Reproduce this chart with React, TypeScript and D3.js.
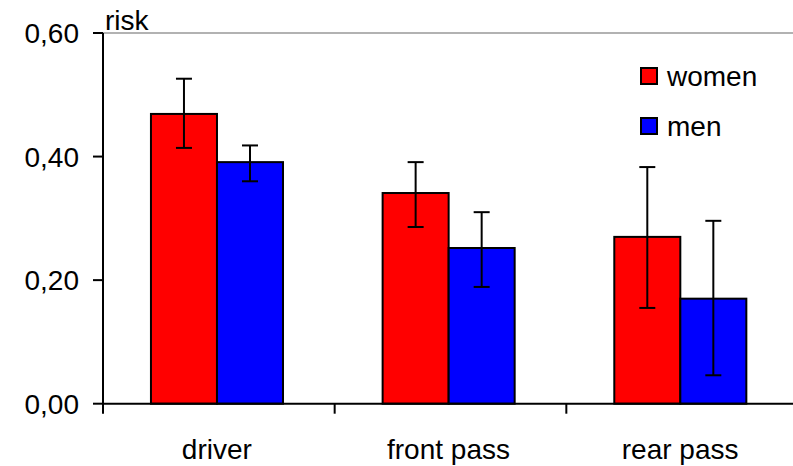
import React from 'react';
import * as d3 from 'd3';

const categories = ['driver', 'front pass', 'rear pass'];
const series = ['women', 'men'];
const colors = ['#FF0000', '#0000FF'];

const womenRisk = [0.469, 0.341, 0.270];
const womenHigh = [0.526, 0.391, 0.383];
const womenLow = [0.414, 0.286, 0.155];

const menRisk = [0.391, 0.252, 0.170];
const menHigh = [0.418, 0.310, 0.296];
const menLow = [0.360, 0.189, 0.046];

const yTicks = [0, 0.2, 0.4, 0.6];
const yTickLabels = ['0,00', '0,20', '0,40', '0,60'];

const values = [womenRisk, menRisk];
const highs = [womenHigh, menHigh];
const lows = [womenLow, menLow];

const W = 793;
const H = 466;
const margin = { top: 33, right: -5, bottom: 62, left: 103 };
const font = 'Liberation Sans, Arial, sans-serif';
const fs = 28;

export default function App() {
  const x0 = d3.scaleBand<string>()
    .domain(categories)
    .range([margin.left, W - margin.right])
    .padding(0);

  const bw = x0.bandwidth();
  const x1 = d3.scaleBand<string>()
    .domain(series)
    .range([bw * 0.207, bw * 0.777]);

  const y = d3.scaleLinear()
    .domain([0, 0.6])
    .range([H - margin.bottom - 0.3, margin.top]);

  const y0 = y(0);

  return (
    <svg width={W} height={H} style={{ position: 'absolute', left: 0, top: 0, background: '#fff' }}
      fontFamily={font}>
      {/* plot top border */}
      <line x1={margin.left} x2={W} y1={y(0.6)} y2={y(0.6)} stroke="#999" strokeWidth={1.5} />

      {categories.map((c, ci) => series.map((s, si) => {
        const bx = (x0(c) || 0) + (x1(s) || 0);
        const cx = bx + x1.bandwidth() / 2;
        return (
          <g key={c + s}>
            <rect x={bx} y={y(values[si][ci])} width={x1.bandwidth()} height={y0 - y(values[si][ci])}
              fill={colors[si]} stroke="#000" strokeWidth={2} />
            <line x1={cx} x2={cx} y1={y(highs[si][ci])} y2={y(lows[si][ci])} stroke="#000" strokeWidth={2} />
            <line x1={cx - 8} x2={cx + 8} y1={y(highs[si][ci])} y2={y(highs[si][ci])} stroke="#000" strokeWidth={2} />
            <line x1={cx - 8} x2={cx + 8} y1={y(lows[si][ci])} y2={y(lows[si][ci])} stroke="#000" strokeWidth={2} />
          </g>
        );
      }))}

      {/* y axis */}
      <line x1={margin.left} x2={margin.left} y1={y(0.6)} y2={y0 + 10} stroke="#000" strokeWidth={2} />
      {yTicks.map((t, i) => (
        <g key={t}>
          <line x1={margin.left - 10} x2={margin.left} y1={y(t)} y2={y(t)} stroke="#000" strokeWidth={2} />
          <text x={margin.left - 24} y={y(t)} dy="0.36em" textAnchor="end" fontSize={fs} fill="#000">
            {yTickLabels[i]}
          </text>
        </g>
      ))}
      <text x={margin.left + 2} y={y(0.6) - 3} fontSize={fs} fill="#000">risk</text>

      {/* x axis */}
      <line x1={margin.left} x2={W} y1={y0} y2={y0} stroke="#000" strokeWidth={2} />
      {categories.map((c, i) => (
        <g key={c}>
          {i > 0 && (
            <line x1={x0(c)} x2={x0(c)} y1={y0} y2={y0 + 10} stroke="#000" strokeWidth={2} />
          )}
          <text x={(x0(c) || 0) + bw / 2 - 2} y={y0 + 55} textAnchor="middle" fontSize={fs} fill="#000">
            {c}
          </text>
        </g>
      ))}

      {/* legend */}
      {series.map((s, i) => (
        <g key={s} transform={`translate(641, ${68 + i * 50})`}>
          <rect x={0} y={0} width={16} height={16} fill={colors[i]} stroke="#000" strokeWidth={2} />
          <text x={26} y={18} fontSize={fs} fill="#000">{s}</text>
        </g>
      ))}
    </svg>
  );
}
